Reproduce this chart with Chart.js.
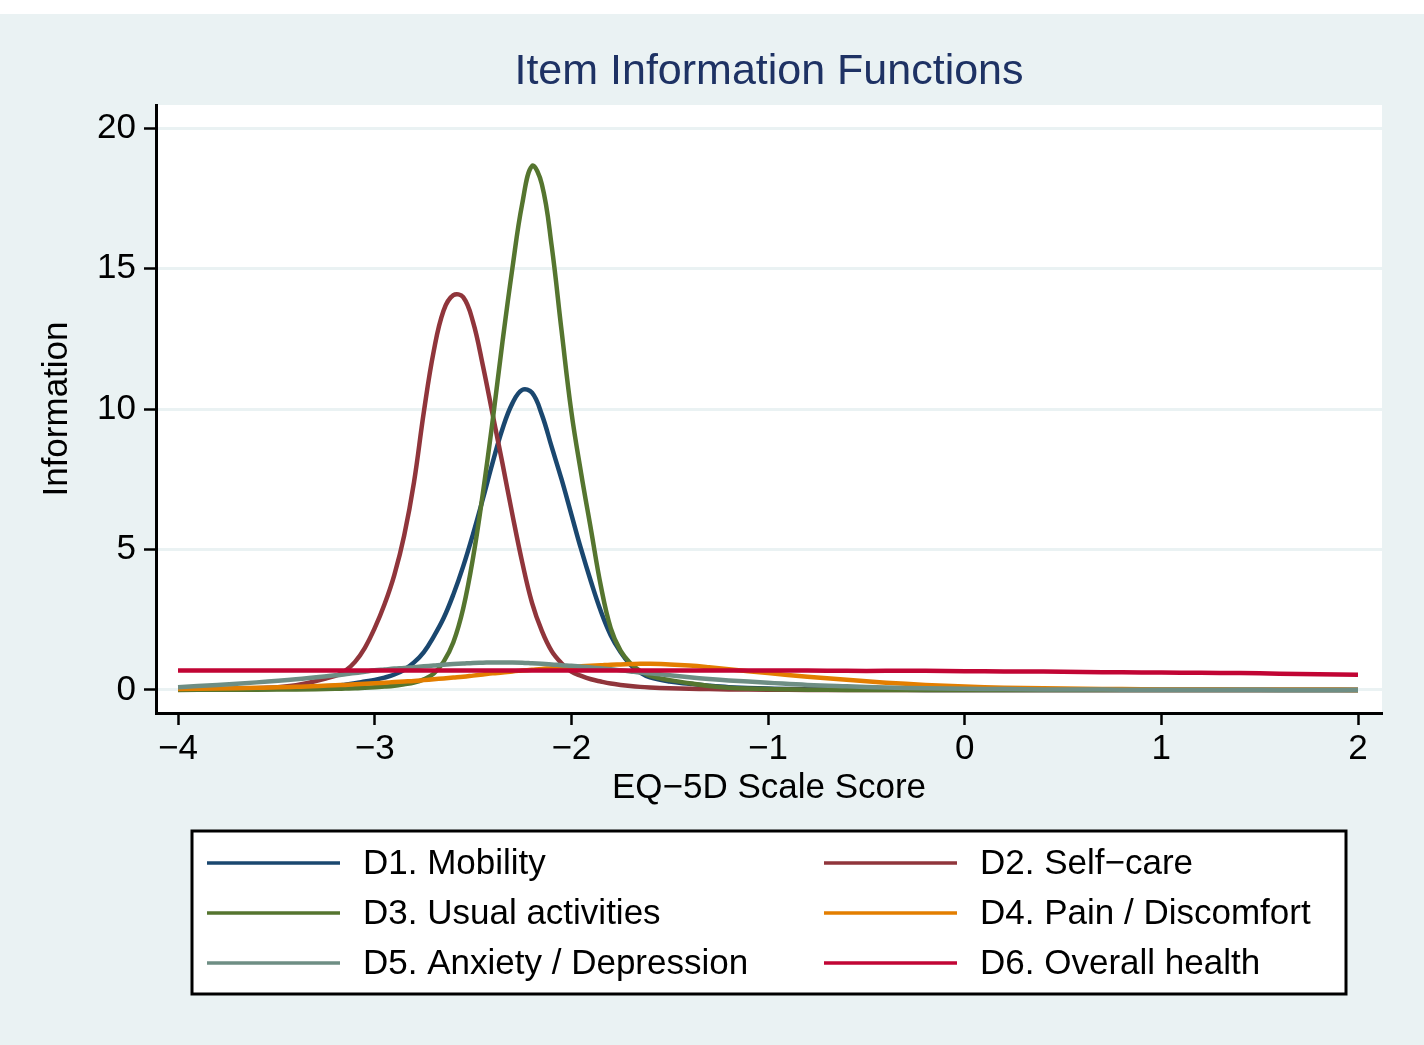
<!DOCTYPE html>
<html>
<head>
<meta charset="utf-8">
<title>Item Information Functions</title>
<script src="https://cdn.jsdelivr.net/npm/chart.js@4.4.1/dist/chart.umd.min.js"></script>
<style>
  html, body { margin: 0; padding: 0; background: #ffffff; }
  canvas { display: block; }
</style>
</head>
<body>
<canvas id="iifChart" width="1424" height="1045"></canvas>
<script>
// EQ-5D scale score (theta) shared by all six curves
const theta = [
  -4, -3.8, -3.6, -3.4, -3.2, -3.15, -3.1, -3.05,
  -3, -2.95, -2.9, -2.85, -2.8, -2.75, -2.7, -2.65,
  -2.6, -2.55, -2.5, -2.45, -2.4, -2.35, -2.3, -2.25,
  -2.2, -2.15, -2.1, -2.05, -2, -1.95, -1.9, -1.85,
  -1.8, -1.75, -1.7, -1.65, -1.6, -1.5, -1.4, -1.3,
  -1.2, -1, -0.8, -0.6, -0.4, -0.2, 0, 0.2,
  0.4, 0.6, 0.8, 1, 1.2, 1.4, 1.6, 1.8,
  2
];

// Item information
const d1Mobility = [
  0.01, 0.02, 0.03, 0.06, 0.15, 0.19, 0.24, 0.3,
  0.36, 0.44, 0.55, 0.72, 0.98, 1.35, 1.9, 2.55,
  3.4, 4.4, 5.55, 6.8, 8.1, 9.3, 10.2, 10.68,
  10.58, 9.8, 8.65, 7.5, 6.25, 5.0, 3.85, 2.8,
  1.95, 1.35, 0.9, 0.62, 0.45, 0.3, 0.22, 0.15,
  0.1, 0.05, 0.03, 0.02, 0.01, 0, 0, 0,
  0, 0, 0, 0, 0, 0, 0, 0,
  0
];
const d2SelfCare = [
  0.01, 0.02, 0.06, 0.17, 0.5, 0.68, 1.0, 1.5,
  2.2, 3.05, 4.1, 5.5, 7.4, 9.9, 12.05, 13.5,
  14.05, 13.98, 13.1, 11.55, 9.8, 8.05, 6.25, 4.55,
  3.1, 2.1, 1.38, 0.95, 0.65, 0.5, 0.38, 0.3,
  0.23, 0.18, 0.14, 0.11, 0.09, 0.06, 0.04, 0.03,
  0.02, 0.01, 0, 0, 0, 0, 0, 0,
  0, 0, 0, 0, 0, 0, 0, 0,
  0
];
const d3UsualActivities = [
  0, 0.01, 0.01, 0.02, 0.04, 0.05, 0.06, 0.08,
  0.1, 0.12, 0.15, 0.2, 0.26, 0.38, 0.58, 1.0,
  1.7, 2.9, 4.7, 7.0, 9.6, 12.4, 15.0, 17.3,
  18.65, 18.0, 15.8, 12.8, 9.9, 7.7, 5.7, 3.7,
  2.2, 1.4, 0.95, 0.68, 0.5, 0.35, 0.24, 0.14,
  0.08, 0.03, 0.01, 0, 0, 0, 0, 0,
  0, 0, 0, 0, 0, 0, 0, 0,
  0
];
const d4PainDiscomfort = [
  0.03, 0.05, 0.08, 0.11, 0.17, 0.18, 0.2, 0.22,
  0.24, 0.26, 0.28, 0.3, 0.32, 0.35, 0.38, 0.41,
  0.44, 0.47, 0.51, 0.55, 0.59, 0.62, 0.66, 0.69,
  0.72, 0.75, 0.77, 0.8, 0.82, 0.84, 0.86, 0.88,
  0.9, 0.91, 0.92, 0.93, 0.93, 0.91, 0.87, 0.81,
  0.74, 0.6, 0.47, 0.36, 0.26, 0.18, 0.12, 0.08,
  0.06, 0.04, 0.03, 0.02, 0.02, 0.01, 0.01, 0.01,
  0
];
const d5AnxietyDepression = [
  0.1, 0.18, 0.27, 0.38, 0.52, 0.56, 0.6, 0.65,
  0.7, 0.73, 0.76, 0.78, 0.81, 0.84, 0.87, 0.9,
  0.92, 0.94, 0.96, 0.97, 0.98, 0.98, 0.98, 0.97,
  0.95, 0.93, 0.91, 0.88, 0.86, 0.83, 0.8, 0.77,
  0.74, 0.7, 0.66, 0.62, 0.59, 0.52, 0.45, 0.39,
  0.34, 0.26, 0.18, 0.13, 0.09, 0.06, 0.04, 0.03,
  0.02, 0.02, 0.01, 0.01, 0.01, 0.01, 0, 0,
  0
];
const d6OverallHealth = [
  0.69, 0.69, 0.69, 0.69, 0.69, 0.69, 0.69, 0.69,
  0.69, 0.69, 0.69, 0.69, 0.69, 0.69, 0.69, 0.69,
  0.69, 0.69, 0.69, 0.69, 0.69, 0.69, 0.69, 0.69,
  0.69, 0.69, 0.69, 0.69, 0.69, 0.69, 0.69, 0.69,
  0.69, 0.69, 0.69, 0.69, 0.69, 0.69, 0.69, 0.69,
  0.69, 0.69, 0.69, 0.68, 0.68, 0.68, 0.67, 0.66,
  0.66, 0.64, 0.63, 0.62, 0.61, 0.6, 0.58, 0.56,
  0.54
];

const seriesLabels = [
  "D1. Mobility", "D2. Self\u2212care", "D3. Usual activities",
  "D4. Pain / Discomfort", "D5. Anxiety / Depression", "D6. Overall health"
];
const seriesValues = [d1Mobility, d2SelfCare, d3UsualActivities,
  d4PainDiscomfort, d5AnxietyDepression, d6OverallHealth];

const xTicks = [-4, -3, -2, -1, 0, 1, 2];
const yTicks = [0, 5, 10, 15, 20];

const chartTitle = "Item Information Functions";

// Stata s2color palette
const seriesColors = ["#1A476F", "#90353B", "#55752F", "#E37E00", "#6E8E84", "#C10534"];
const outerBg = "#EAF2F3";
const FONT = "'Liberation Sans', Arial, Helvetica, sans-serif";

Chart.defaults.font.family = FONT;
Chart.defaults.color = "#000";

const minus = v => (v < 0 ? "\u2212" + Math.abs(v) : String(v));

// graph region, white plot region, and the title centred over the plot
const backdrop = {
  id: "backdrop",
  beforeDraw(chart) {
    const { ctx, width, height, chartArea: a } = chart;
    ctx.save();
    ctx.fillStyle = "#fff";
    ctx.fillRect(0, 0, width, height);
    ctx.fillStyle = outerBg;
    ctx.fillRect(0, 14, width, height - 14);
    ctx.fillStyle = "#fff";
    ctx.fillRect(a.left, a.top, a.right - a.left, a.bottom - a.top);
    ctx.fillStyle = "#1E3264";
    ctx.font = "43px " + FONT;
    ctx.textAlign = "center";
    ctx.textBaseline = "middle";
    ctx.fillText(chartTitle, (a.left + a.right) / 2, 72);
    ctx.restore();
  }
};

// two-column boxed legend under the x axis title
const boxLegend = {
  id: "boxLegend",
  afterDraw(chart) {
    const { ctx, chartArea: a } = chart;
    const cx = (a.left + a.right) / 2;
    const w = 1154, h = 163;
    const left = cx - w / 2, top = 831;
    ctx.save();
    ctx.fillStyle = "#fff";
    ctx.fillRect(left, top, w, h);
    ctx.lineWidth = 3;
    ctx.strokeStyle = "#000";
    ctx.strokeRect(left, top, w, h);
    ctx.font = "35px " + FONT;
    ctx.textBaseline = "middle";
    ctx.textAlign = "left";
    chart.data.datasets.forEach((ds, i) => {
      const col = i % 2, row = Math.floor(i / 2);
      const x0 = left + 15 + col * 617;
      const y = top + 32 + row * 50;
      ctx.strokeStyle = ds.borderColor;
      ctx.lineWidth = 3.5;
      ctx.beginPath();
      ctx.moveTo(x0, y);
      ctx.lineTo(x0 + 133, y);
      ctx.stroke();
      ctx.fillStyle = "#000";
      ctx.fillText(ds.label, x0 + 156, y + 1);
    });
    ctx.restore();
  }
};

new Chart(document.getElementById("iifChart"), {
  type: "line",
  data: {
    datasets: seriesLabels.map((label, i) => ({
      label,
      data: theta.map((x, k) => ({ x, y: seriesValues[i][k] })),
      borderColor: seriesColors[i],
      backgroundColor: seriesColors[i],
      borderWidth: 4.5,
      pointRadius: 0,
      fill: false,
      tension: 0.4,
      order: seriesLabels.length - 1 - i
    }))
  },
  options: {
    responsive: false,
    animation: false,
    devicePixelRatio: 1,
    layout: { padding: { top: 105, left: 0, right: 42, bottom: 230 } },
    plugins: {
      legend: { display: false },
      tooltip: { enabled: false },
      title: { display: false }
    },
    scales: {
      x: {
        type: "linear",
        min: -4.112,
        max: 2.122,
        afterBuildTicks: s => { s.ticks = xTicks.map(v => ({ value: v })); },
        afterFit: s => { s.height = 102; },
        grid: { drawOnChartArea: false, drawTicks: true, tickLength: 12, tickColor: "#000", tickWidth: 2.5 },
        border: { display: true, color: "#000", width: 3 },
        ticks: { color: "#000", font: { size: 35 }, padding: 3, maxRotation: 0, callback: v => minus(v) },
        title: {
          display: true,
          text: "EQ\u22125D Scale Score",
          color: "#000",
          font: { size: 35 },
          padding: { top: 0, bottom: 6 }
        }
      },
      y: {
        type: "linear",
        min: -0.82,
        max: 20.82,
        afterBuildTicks: s => { s.ticks = yTicks.map(v => ({ value: v })); },
        afterFit: s => { s.width = 156; },
        grid: { color: outerBg, lineWidth: 3, drawTicks: true, tickLength: 12, tickColor: "#000", tickWidth: 2.5 },
        border: { display: true, color: "#000", width: 3 },
        ticks: { color: "#000", font: { size: 35 }, padding: 8, callback: v => minus(v) },
        title: {
          display: true,
          text: "Information",
          color: "#000",
          font: { size: 35 },
          padding: { top: 36, bottom: 0 }
        }
      }
    }
  },
  plugins: [backdrop, boxLegend]
});
</script>
</body>
</html>
